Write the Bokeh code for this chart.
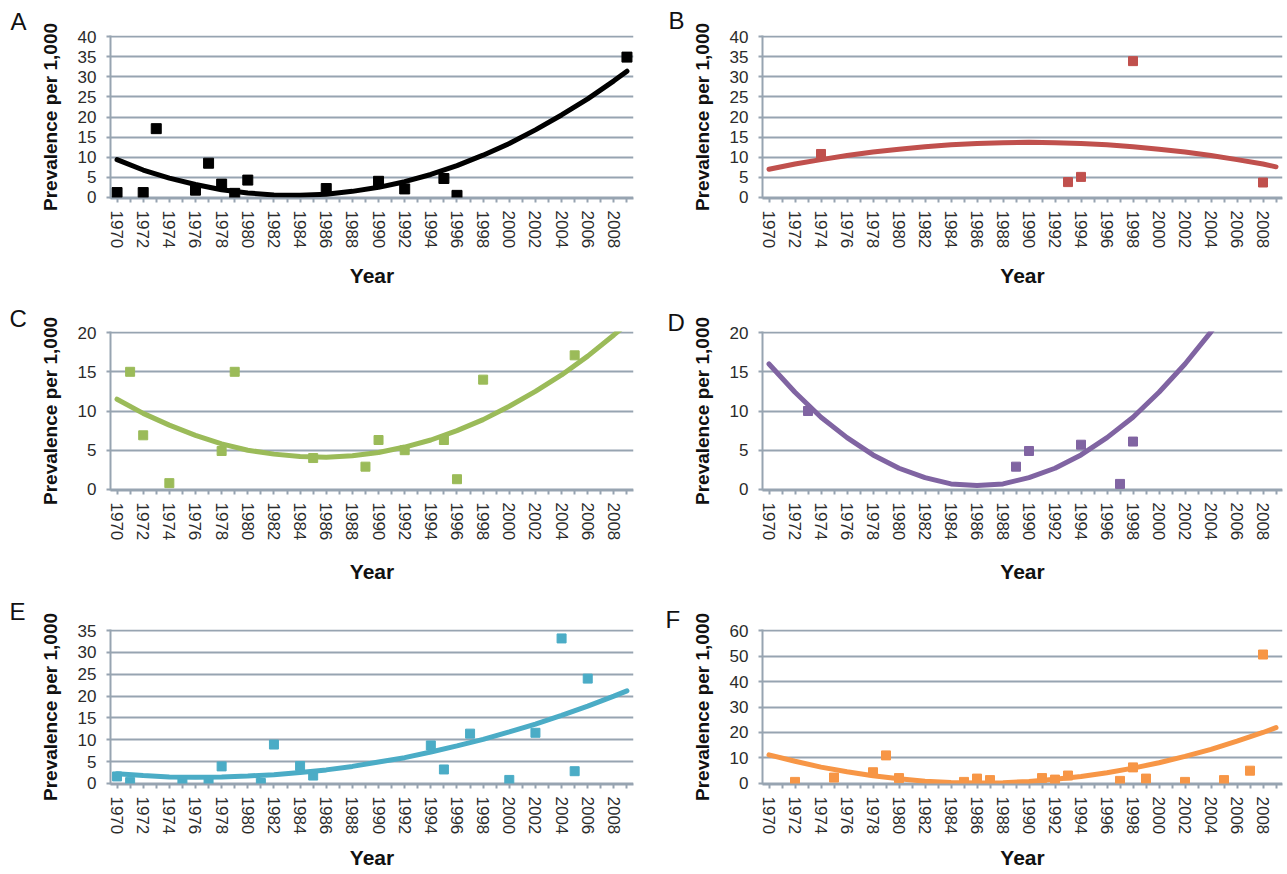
from bokeh.plotting import figure
from bokeh.layouts import column, row
from bokeh.models import Range1d, FixedTicker
from bokeh.embed import file_html
from bokeh.resources import INLINE

# ---------------- data ----------------
all_years = list(range(1970, 2010))
tick_labels = {y: (str(y) if y % 2 == 0 else "") for y in all_years}
trend_years = [1970, 1972, 1974, 1976, 1978, 1980, 1982, 1984, 1986, 1988, 1990,
               1992, 1994, 1996, 1998, 2000, 2002, 2004, 2006, 2008, 2009]

a_years = [1970, 1972, 1973, 1976, 1977, 1978, 1979, 1980, 1986, 1990, 1992, 1995, 1996, 2009]
a_vals = [1.2, 1.2, 17.1, 1.8, 8.5, 3.3, 1.0, 4.3, 2.2, 4.0, 2.1, 4.7, 0.5, 34.9]
a_trend = [9.4, 6.8, 4.8, 3.2, 1.9, 1.1, 0.6, 0.5, 0.8, 1.5, 2.5, 3.9, 5.7, 7.9, 10.5,
           13.4, 16.8, 20.5, 24.5, 29.0, 31.4]

b_years = [1974, 1993, 1994, 1998, 2008]
b_vals = [10.8, 3.8, 5.1, 33.9, 3.7]
b_trend = [7.0, 8.3, 9.4, 10.4, 11.3, 12.0, 12.6, 13.1, 13.4, 13.6, 13.7, 13.6, 13.4,
           13.1, 12.6, 12.0, 11.3, 10.4, 9.4, 8.3, 7.6]

c_years = [1971, 1972, 1974, 1978, 1979, 1985, 1989, 1990, 1992, 1995, 1996, 1998, 2005]
c_vals = [15.0, 6.9, 0.8, 4.9, 15.0, 4.0, 2.9, 6.3, 5.0, 6.3, 1.3, 14.0, 17.1]
c_trend = [11.5, 9.7, 8.2, 6.9, 5.8, 5.0, 4.5, 4.2, 4.1, 4.3, 4.7, 5.4, 6.3, 7.5, 8.9,
           10.6, 12.5, 14.6, 17.0, 19.7, 21.1]

d_years = [1973, 1989, 1990, 1994, 1997, 1998]
d_vals = [10.0, 2.9, 4.9, 5.7, 0.7, 6.1]
d_trend = [16.0, 12.4, 9.2, 6.6, 4.4, 2.7, 1.5, 0.7, 0.5, 0.7, 1.5, 2.7, 4.4, 6.6, 9.2,
           12.4, 16.0, 20.1, 24.7, 29.8, 32.5]

e_years = [1970, 1971, 1975, 1977, 1978, 1981, 1982, 1984, 1985, 1994, 1995, 1997,
           2000, 2002, 2004, 2005, 2006]
e_vals = [1.6, 0.3, 0.6, 0.6, 3.9, 0.1, 8.9, 4.0, 1.8, 8.7, 3.2, 11.4, 0.8, 11.6,
          33.2, 2.8, 24.0]
e_trend = [2.2, 1.8, 1.5, 1.4, 1.5, 1.7, 2.0, 2.5, 3.1, 3.9, 4.9, 5.9, 7.2, 8.6, 10.1,
           11.8, 13.6, 15.6, 17.7, 20.0, 21.2]

f_years = [1972, 1975, 1978, 1979, 1980, 1985, 1986, 1987, 1991, 1992, 1993, 1997,
           1998, 1999, 2002, 2005, 2007, 2008]
f_vals = [0.6, 2.3, 4.4, 11.0, 2.1, 0.6, 1.9, 1.3, 2.1, 1.5, 3.1, 1.0, 6.3, 1.9, 0.6,
          1.3, 5.0, 50.6]
f_trend = [11.2, 8.7, 6.4, 4.6, 3.0, 1.8, 0.9, 0.4, 0.2, 0.3, 0.8, 1.6, 2.7, 4.2, 6.0,
           8.1, 10.6, 13.4, 16.6, 20.0, 21.9]

# ---------------- style ----------------
FONT = "Liberation Sans"
GRID = "#97a4b1"
TICK_COLOR = "#2b2b2b"


def panel(letter, xs, ys, trend, color, ymax, ystep, width, height,
          bl, br, bt, bb, letter_offset, letter_standoff, xlab_standoff, msize=9):
    pad = ymax * 0.007
    p = figure(width=width, height=height, output_backend="svg", toolbar_location=None,
               x_range=Range1d(1969.5, 2009.5), y_range=Range1d(-pad, ymax + pad),
               min_border_left=bl, min_border_right=br, min_border_top=bt,
               min_border_bottom=bb, background_fill_color="white",
               border_fill_color="white", outline_line_color=None)
    p.xgrid.visible = False
    p.ygrid.grid_line_color = GRID
    p.ygrid.grid_line_width = 2
    p.ygrid.ticker = FixedTicker(ticks=list(range(0, ymax + 1, ystep)))

    xa = p.xaxis[0]
    xa.ticker = FixedTicker(ticks=all_years)
    xa.major_label_overrides = tick_labels
    xa.major_label_orientation = "vertical"
    xa.major_label_text_font = FONT
    xa.major_label_text_font_size = "17px"
    xa.major_label_text_color = TICK_COLOR
    xa.major_label_standoff = 8
    xa.major_tick_in = 0
    xa.major_tick_out = 4
    xa.minor_tick_in = 0
    xa.minor_tick_out = 0
    xa.major_tick_line_color = GRID
    xa.major_tick_line_width = 2
    xa.axis_line_color = GRID
    xa.axis_line_width = 2
    xa.axis_label = "Year"
    xa.axis_label_text_font = FONT
    xa.axis_label_text_font_size = "21px"
    xa.axis_label_text_font_style = "bold"
    xa.axis_label_text_color = "#111111"
    xa.axis_label_standoff = xlab_standoff

    ya = p.yaxis[0]
    ya.ticker = FixedTicker(ticks=list(range(0, ymax + 1, ystep)))
    ya.major_label_text_font = FONT
    ya.major_label_text_font_size = "17px"
    ya.major_label_text_color = TICK_COLOR
    ya.major_label_standoff = 10
    ya.major_tick_in = 0
    ya.major_tick_out = 4
    ya.minor_tick_in = 0
    ya.minor_tick_out = 0
    ya.major_tick_line_color = GRID
    ya.major_tick_line_width = 2
    ya.axis_line_color = GRID
    ya.axis_line_width = 2
    ya.axis_label = "Prevalence per 1,000"
    ya.axis_label_text_font = FONT
    ya.axis_label_text_font_size = "19px"
    ya.axis_label_text_font_style = "bold"
    ya.axis_label_text_color = "#111111"
    ya.axis_label_standoff = 14

    p.scatter(xs, ys, marker="square", size=msize, fill_color=color, line_color=color)
    p.line(trend_years, trend, line_color=color, line_width=5, line_cap="round")

    p.title.text = letter
    p.title.align = "left"
    p.title.offset = letter_offset
    p.title.standoff = letter_standoff
    p.title.text_font = FONT
    p.title.text_font_size = "24px"
    p.title.text_font_style = "normal"
    p.title.text_color = "#111111"
    return p


W1, W2 = 643, 644
H1, H2, H3 = 292, 298, 284
pa = panel("A", a_years, a_vals, a_trend, "#000000", 40, 5, W1, H1, 110, 10, 35, 94, -100, 2, 13, 10)
pb = panel("B", b_years, b_vals, b_trend, "#c0504d", 40, 5, W2, H1, 119, 5, 35, 94, -94, 4, 13)
pc = panel("C", c_years, c_vals, c_trend, "#9bbb59", 20, 5, W1, H2, 110, 10, 39, 100, -101, 0, 17)
pd = panel("D", d_years, d_vals, d_trend, "#8064a2", 20, 5, W2, H2, 119, 5, 39, 100, -95, -8, 17)
pe = panel("E", e_years, e_vals, e_trend, "#4bacc6", 35, 5, W1, H3, 110, 10, 38, 90, -101, 10, 9)
pf = panel("F", f_years, f_vals, f_trend, "#f79646", 60, 10, W2, H3, 119, 5, 38, 90, -97, -6, 9)

layout = column(row(pa, pb), row(pc, pd), row(pe, pf))

open("out.html", "w").write(file_html(layout, INLINE))
